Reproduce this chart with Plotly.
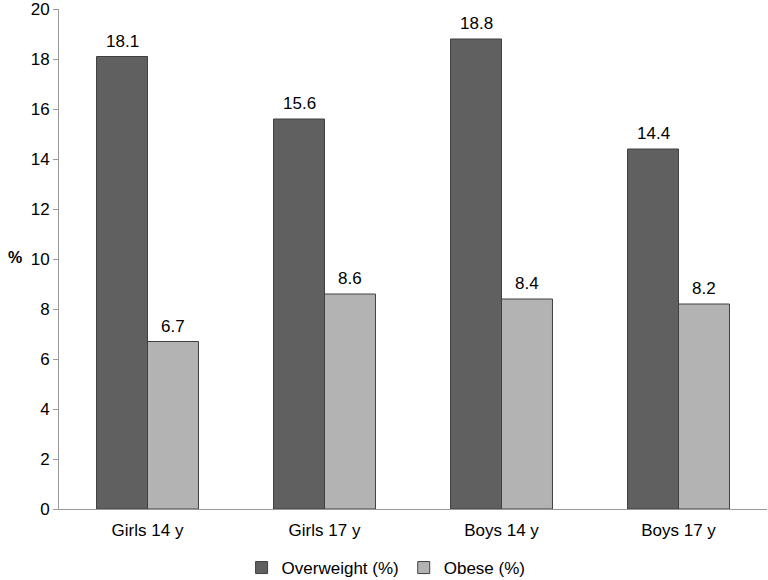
import plotly.graph_objects as go

categories = ["Girls 14 y", "Girls 17 y", "Boys 14 y", "Boys 17 y"]
overweight = [18.1, 15.6, 18.8, 14.4]
obese = [6.7, 8.6, 8.4, 8.2]
y_ticks = [0, 2, 4, 6, 8, 10, 12, 14, 16, 18, 20]

FAM = "Liberation Sans, Arial, sans-serif"
font = dict(family=FAM, size=17, color="#000000")

fig = go.Figure()
fig.add_trace(go.Bar(
    x=categories, y=overweight, name="Overweight (%)",
    marker=dict(color="#606060", line=dict(color="#404040", width=1)),
))
fig.add_trace(go.Bar(
    x=categories, y=obese, name="Obese (%)",
    marker=dict(color="#b3b3b3", line=dict(color="#404040", width=1)),
))

# value labels above bars (data coordinates, shifted to each bar of the group)
annotations = []
for cat, v in zip(categories, overweight):
    annotations.append(dict(x=cat, y=v, xref="x", yref="y", text=f"{v:.1f}",
                            showarrow=False, yanchor="bottom", xshift=-25.5, yshift=4,
                            font=font))
for cat, v in zip(categories, obese):
    annotations.append(dict(x=cat, y=v, xref="x", yref="y", text=f"{v:.1f}",
                            showarrow=False, yanchor="bottom", xshift=25.5, yshift=4,
                            font=font))
annotations.append(dict(text="<b>%</b>", x=-0.075, y=0.5, xref="paper", yref="paper",
                        showarrow=False, yshift=2, font=dict(family=FAM, size=16, color="#000")))

fig.update_layout(
    width=768, height=580,
    margin=dict(l=59, r=1, t=9, b=71, autoexpand=False),
    paper_bgcolor="white", plot_bgcolor="white",
    barmode="group", bargap=0.424, bargroupgap=0,
    font=font,
    showlegend=True,
    legend=dict(orientation="h", x=0.462, xanchor="center", y=-0.118, yanchor="middle",
                font=font, bgcolor="rgba(0,0,0,0)", itemwidth=30, traceorder="normal"),
    xaxis=dict(showline=True, linecolor="#999999", linewidth=1, ticks="",
               showgrid=False, tickfont=font, automargin=False, ticklabelstandoff=6),
    yaxis=dict(range=[0, 20], tickvals=y_ticks, showline=True, linecolor="#999999",
               linewidth=1, ticks="outside", ticklen=5, tickcolor="#999999",
               showgrid=False, zeroline=False, tickfont=font, automargin=False,
               ticklabeloverflow="allow"),
    annotations=annotations,
)

fig.write_html("out.html", config={"displayModeBar": False},
               post_script="document.body.style.margin='0';")
